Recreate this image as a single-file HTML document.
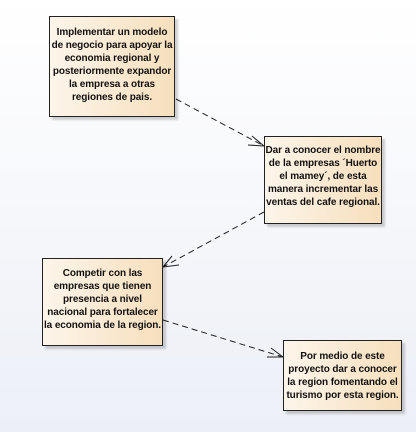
<!DOCTYPE html>
<html><head><style>
html,body{margin:0;padding:0}
body{width:416px;height:432px;background:linear-gradient(#ffffff,#eceff6);position:relative;overflow:hidden;font-family:"Liberation Sans",sans-serif}
.b{position:absolute;box-sizing:border-box;border:1px solid #222;background:linear-gradient(90deg,#fdf5ea,#f6dfbc);box-shadow:3px 3px 2px rgba(0,0,0,0.18);font-weight:bold;font-size:10px;line-height:13px;text-align:center;color:#111;white-space:nowrap;letter-spacing:-0.1px}
svg{position:absolute;left:0;top:0}
</style></head><body>
<svg width="416" height="432">
<g stroke="#222" stroke-width="1" fill="none">
<path d="M176 99 L264 146" stroke-dasharray="6,4"/>
<path d="M252 136 L264 146 L248 145"/>
<path d="M264 212 L163 267" stroke-dasharray="6,4"/>
<path d="M172 256 L163 267 L179 265"/>
<path d="M163 320 L283 357" stroke-dasharray="6,4"/>
<path d="M271 348 L283 357 L267 357"/>
</g>
</svg>
<div class="b" style="left:49px;top:16px;width:126px;height:101px;padding-top:9px">Implementar un modelo<br>de negocio para apoyar la<br>economia regional y<br>posteriormente expandor<br>la empresa a otras<br>regiones de pais.</div>
<div class="b" style="left:264px;top:136px;width:118px;height:88px;padding-top:7px">Dar a conocer el nombre<br>de la empresas ´Huerto<br>el mamey´, de esta<br>manera incrementar las<br>ventas del cafe regional.</div>
<div class="b" style="left:42px;top:258px;width:121px;height:88px;padding-top:8px">Competir con las<br>empresas que tienen<br>presencia a nivel<br>nacional para fortalecer<br>la economia de la region.</div>
<div class="b" style="left:283px;top:340px;width:119px;height:71px;padding-top:9px">Por medio de este<br>proyecto dar a conocer<br>la region fomentando el<br>turismo por esta region.</div>
</body></html>
